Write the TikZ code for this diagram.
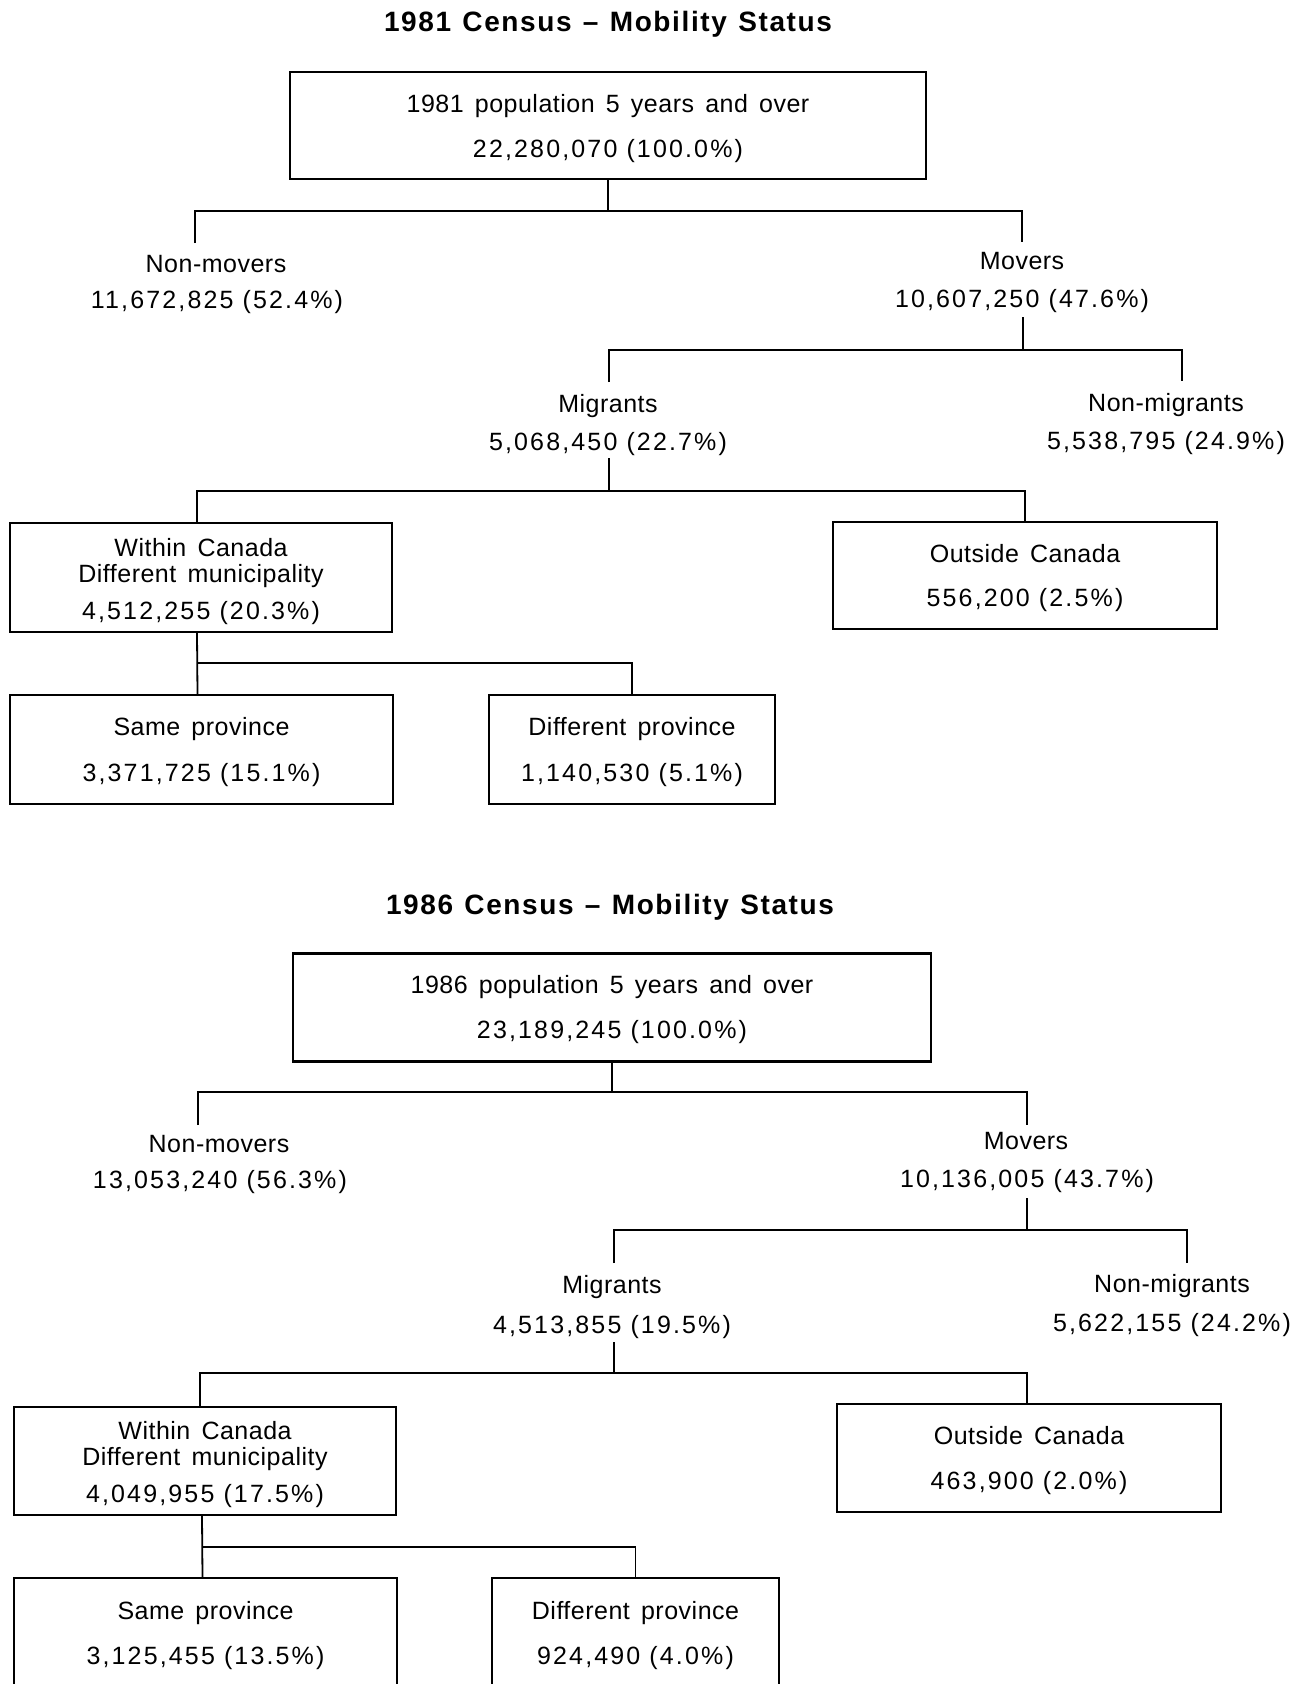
\documentclass[tikz,border=0pt]{standalone}
\usepackage{fontspec}
\setmainfont{Liberation Sans}[LetterSpace=2, WordSpace=1.5]
\newfontfamily\numfont{Liberation Sans}[LetterSpace=8.6, WordSpace=1.0]
\newfontfamily\ttlfont{Liberation Sans}[LetterSpace=5.8, WordSpace=1.2]
\begin{document}
\begin{tikzpicture}[x=1pt,y=-1pt,
  box/.style={draw, line width=2.4pt, inner sep=0pt},
  txt/.style={anchor=base, inner sep=0pt, font=\fontsize{25}{30}\selectfont},
  num/.style={anchor=base, inner sep=0pt, font=\numfont\fontsize{25}{30}\selectfont},
  ttl/.style={anchor=base, inner sep=0pt, font=\ttlfont\fontsize{28}{34}\selectfont\bfseries},
  conn/.style={line width=1.8pt}]
\useasboundingbox (0,0) rectangle (1306,1684);
\clip (0,0) rectangle (1306,1684);

% ================= 1981 =================
\node[ttl] (title1) at (608,31.5) {1981 Census – Mobility Status};

\node[box, minimum width=636pt, minimum height=107pt] (top1) at (608,125.5) {};
\node[txt] (top1a) at (608,112) {1981 population 5 years and over};
\node[num] (top1b) at (608,157.5) {22,280,070 (100.0\%)};

\node[txt] (nm1) at (216,272) {Non-movers};
\node[num] (nm1n) at (217,308) {11,672,825 (52.4\%)};
\node[txt] (mv1) at (1022,269) {Movers};
\node[num] (mv1n) at (1022,307) {10,607,250 (47.6\%)};

\node[txt] (mg1) at (608,412) {Migrants};
\node[num] (mg1n) at (608,450) {5,068,450 (22.7\%)};
\node[txt] (nmg1) at (1166,411) {Non-migrants};
\node[num] (nmg1n) at (1166,449) {5,538,795 (24.9\%)};

\node[box, minimum width=382pt, minimum height=109pt] (win1) at (201,577.5) {};
\node[txt] (win1a) at (201,556) {Within Canada};
\node[txt] (win1b) at (201,582.5) {Different municipality};
\node[num] (win1c) at (201,619) {4,512,255 (20.3\%)};

\node[box, minimum width=384pt, minimum height=107pt] (out1) at (1025,575.5) {};
\node[txt] (out1a) at (1025,562) {Outside Canada};
\node[num] (out1b) at (1025,606) {556,200 (2.5\%)};

\node[box, minimum width=383pt, minimum height=109pt] (same1) at (201.5,749.5) {};
\node[txt] (same1a) at (201.5,735) {Same province};
\node[num] (same1b) at (201.5,781) {3,371,725 (15.1\%)};

\node[box, minimum width=286pt, minimum height=109pt] (diff1) at (632,749.5) {};
\node[txt] (diff1a) at (632,735) {Different province};
\node[num] (diff1b) at (632,781) {1,140,530 (5.1\%)};

% connectors 1981
\coordinate (b1) at (0,211);
\coordinate (c1l) at (195,243);
\coordinate (c1r) at (1022,242);
\draw[conn] (top1.south) -- (top1.south |- b1);
\draw[conn] (c1l) -- (c1l |- b1) -- (c1r |- b1) -- (c1r);

\coordinate (b2) at (0,350);
\coordinate (p2) at (1023,317);
\coordinate (c2l) at (609,382);
\coordinate (c2r) at (1182,381);
\draw[conn] (p2) -- (p2 |- b2);
\draw[conn] (c2l) -- (c2l |- b2) -- (c2r |- b2) -- (c2r);

\coordinate (b3) at (0,491);
\coordinate (p3) at (609,458);
\draw[conn] (p3) -- (p3 |- b3);
\draw[conn] ([xshift=-4pt]win1.north) -- ([xshift=-4pt]win1.north |- b3) -- (out1.north |- b3) -- (out1.north);

\coordinate (b4) at (0,663);
\draw[conn] ([xshift=-4pt]win1.south) -- ([xshift=-4pt]same1.north);
\draw[conn] ([xshift=-4pt]same1.north |- b4) -- (diff1.north |- b4) -- (diff1.north);

% ================= 1986 =================
\node[ttl] (title2) at (610,914.5) {1986 Census – Mobility Status};

\node[box, minimum width=638pt, minimum height=108pt] (top2) at (612,1007.5) {};
\node[txt] (top2a) at (612,993.5) {1986 population 5 years and over};
\node[num] (top2b) at (612,1038.5) {23,189,245 (100.0\%)};

\node[txt] (nm2) at (219,1152) {Non-movers};
\node[num] (nm2n) at (220,1188) {13,053,240 (56.3\%)};
\node[txt] (mv2) at (1026,1149) {Movers};
\node[num] (mv2n) at (1027,1187) {10,136,005 (43.7\%)};

\node[txt] (mg2) at (612,1293) {Migrants};
\node[num] (mg2n) at (612,1333) {4,513,855 (19.5\%)};
\node[txt] (nmg2) at (1172,1292) {Non-migrants};
\node[num] (nmg2n) at (1172,1331) {5,622,155 (24.2\%)};

\node[box, minimum width=382pt, minimum height=108pt] (win2) at (205,1461) {};
\node[txt] (win2a) at (205,1439) {Within Canada};
\node[txt] (win2b) at (205,1465.5) {Different municipality};
\node[num] (win2c) at (205,1502) {4,049,955 (17.5\%)};

\node[box, minimum width=384pt, minimum height=108pt] (out2) at (1029,1458) {};
\node[txt] (out2a) at (1029,1444) {Outside Canada};
\node[num] (out2b) at (1029,1489) {463,900 (2.0\%)};

\node[box, minimum width=383pt, minimum height=122pt] (same2) at (205.5,1639) {};
\node[txt] (same2a) at (205.5,1619) {Same province};
\node[num] (same2b) at (205.5,1664) {3,125,455 (13.5\%)};

\node[box, minimum width=287pt, minimum height=122pt] (diff2) at (635.5,1639) {};
\node[txt] (diff2a) at (635.5,1619) {Different province};
\node[num] (diff2b) at (635.5,1664) {924,490 (4.0\%)};

% connectors 1986
\coordinate (b5) at (0,1092);
\coordinate (c5l) at (198,1125);
\coordinate (c5r) at (1027,1125);
\draw[conn] (top2.south) -- (top2.south |- b5);
\draw[conn] (c5l) -- (c5l |- b5) -- (c5r |- b5) -- (c5r);

\coordinate (b6) at (0,1230);
\coordinate (p6) at (1027,1198);
\coordinate (c6l) at (614,1263);
\coordinate (c6r) at (1187,1263);
\draw[conn] (p6) -- (p6 |- b6);
\draw[conn] (c6l) -- (c6l |- b6) -- (c6r |- b6) -- (c6r);

\coordinate (b7) at (0,1373);
\coordinate (p7) at (614,1342);
\draw[conn] (p7) -- (p7 |- b7);
\draw[conn] ([xshift=-5pt]win2.north) -- ([xshift=-5pt]win2.north |- b7) -- ([xshift=-2pt]out2.north |- b7) -- ([xshift=-2pt]out2.north);

\coordinate (b8) at (0,1547);
\draw[conn] ([xshift=-3pt]win2.south) -- ([xshift=-3pt]same2.north);
\draw[conn] ([xshift=-3pt]same2.north |- b8) -- (diff2.north |- b8) -- (diff2.north);
\end{tikzpicture}
\end{document}
